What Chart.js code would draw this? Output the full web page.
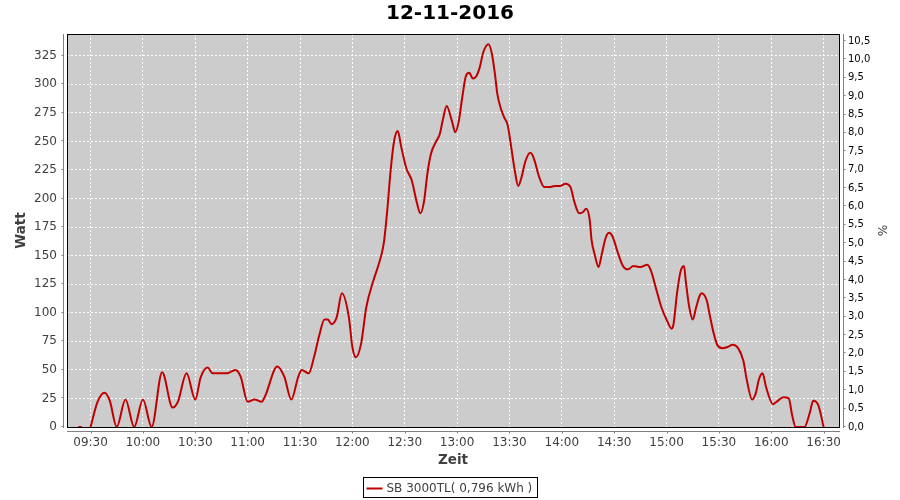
<!DOCTYPE html>
<html>
<head>
<meta charset="utf-8">
<title>12-11-2016</title>
<script src="https://cdn.jsdelivr.net/npm/chart.js@4.4.1/dist/chart.umd.min.js"></script>
<style>
  body { margin: 0; background: #fff; }
  #wrap { width: 900px; height: 500px; }
</style>
</head>
<body>
<div id="wrap"><canvas id="chartPower" width="900" height="500"></canvas></div>
<script>
// values: time of day -> power in watt
var times = [
  '09:23', '09:25', '09:27', '09:30', '09:34', '09:38', '09:41', '09:45', '09:50', '09:55',
  '10:00', '10:05', '10:11', '10:17', '10:20', '10:25', '10:30', '10:33', '10:37', '10:40',
  '10:44', '10:48', '10:53', '10:56', '11:00', '11:04', '11:08', '11:10', '11:17', '11:21',
  '11:25', '11:29', '11:31', '11:35', '11:38', '11:41', '11:44', '11:46', '11:48', '11:51',
  '11:54', '11:58', '12:00', '12:02', '12:05', '12:08', '12:12', '12:15', '12:18', '12:20',
  '12:22', '12:24', '12:26', '12:28', '12:31', '12:34', '12:37', '12:39', '12:41', '12:43',
  '12:45', '12:48', '12:50', '12:52', '12:54', '12:57', '12:59', '13:01', '13:03', '13:05',
  '13:07', '13:09', '13:11', '13:13', '13:15', '13:18', '13:20', '13:22', '13:23', '13:25',
  '13:27', '13:29', '13:31', '13:33', '13:35', '13:37', '13:39', '13:42', '13:44', '13:47',
  '13:50', '13:53', '13:56', '13:59', '14:02', '14:05', '14:07', '14:10', '14:12', '14:14',
  '14:16', '14:17', '14:19', '14:21', '14:23', '14:25', '14:27', '14:29', '14:32', '14:35',
  '14:38', '14:41', '14:45', '14:49', '14:51', '14:54', '14:57', '15:00', '15:03', '15:04',
  '15:06', '15:08', '15:10', '15:11', '15:13', '15:15', '15:17', '15:19', '15:20', '15:23',
  '15:25', '15:27', '15:29', '15:32', '15:35', '15:38', '15:41', '15:44', '15:46', '15:49',
  '15:51', '15:53', '15:55', '15:57', '16:01', '16:03', '16:07', '16:10', '16:12', '16:14',
  '16:19', '16:22', '16:24', '16:27', '16:30'
];
var watts = [
  0, 0, null, 0, 22, 30, 23, 0, 24, 0,
  24, 0, 48, 17, 22, 47, 24, 43, 52, 47,
  47, 47, 50, 44, 22, 24, 22, 27, 53, 44,
  24, 44, 50, 47, 61, 80, 94, 94, 90, 96,
  117, 96, 70, 61, 73, 105, 128, 142, 161, 190,
  226, 251, 259, 245, 226, 216, 196, 187, 197, 222,
  239, 250, 256, 270, 281, 268, 258, 268, 289, 307,
  310, 305, 307, 315, 328, 335, 326, 305, 292, 279,
  271, 264, 245, 225, 211, 219, 232, 240, 235, 219,
  210, 210, 211, 211, 213, 210, 198, 187, 188, 191,
  181, 164, 150, 140, 152, 165, 170, 167, 153, 141,
  138, 141, 140, 142, 137, 121, 105, 94, 86, 90,
  117, 136, 141, 128, 105, 94, 105, 115, 117, 111,
  96, 82, 72, 69, 70, 72, 69, 58, 41, 24,
  29, 42, 47, 35, 20, 22, 26, 25, 10, 0,
  0, 12, 23, 19, 0
];

var xTicks = ['09:30', '10:00', '10:30', '11:00', '11:30', '12:00', '12:30', '13:00',
  '13:30', '14:00', '14:30', '15:00', '15:30', '16:00', '16:30'];
var wattTicks = [0, 25, 50, 75, 100, 125, 150, 175, 200, 225, 250, 275, 300, 325];
var percentTicks = [0, 0.5, 1, 1.5, 2, 2.5, 3, 3.5, 4, 4.5, 5, 5.5, 6, 6.5, 7, 7.5, 8, 8.5, 9, 9.5, 10, 10.5];

var chartTitle = '12-11-2016';
var seriesLabel = 'SB 3000TL( 0,796 kWh )';

var FONT = 'DejaVu Sans';

function toMin(t) {
  var p = t.split(':');
  return parseInt(p[0], 10) * 60 + parseInt(p[1], 10);
}
function fmt(m) {
  var h = Math.floor(m / 60), mm = Math.round(m % 60);
  return (h < 10 ? '0' : '') + h + ':' + (mm < 10 ? '0' : '') + mm;
}

var points = times.map(function (t, i) {
  return { x: toMin(t), y: watts[i] };
});

// gray plot box, black outline, offset axis lines like the original
var plotFrame = {
  id: 'plotFrame',
  beforeDraw: function (chart) {
    var ctx = chart.ctx, a = chart.chartArea;
    ctx.save();
    ctx.fillStyle = '#cccccc';
    ctx.fillRect(a.left, a.top, a.right - a.left, a.bottom - a.top);
    ctx.restore();
  },
  afterDraw: function (chart) {
    var ctx = chart.ctx, a = chart.chartArea;
    var sx = chart.scales.x, sy = chart.scales.y, sy2 = chart.scales.y2;
    ctx.save();
    ctx.lineWidth = 1;
    ctx.strokeStyle = '#000';
    ctx.strokeRect(a.left + 0.5, a.top + 0.5, a.right - a.left, a.bottom - a.top);

    ctx.strokeStyle = '#808080';
    ctx.beginPath();
    // left axis
    var lx = a.left - 3.5;
    ctx.moveTo(lx, a.top); ctx.lineTo(lx, a.bottom + 1);
    sy.ticks.forEach(function (t) {
      var py = Math.round(sy.getPixelForValue(t.value)) - 0.5;
      ctx.moveTo(lx - 2, py); ctx.lineTo(lx, py);
    });
    // right axis
    var rx = a.right + 4.5;
    ctx.moveTo(rx, a.top); ctx.lineTo(rx, a.bottom + 1);
    sy2.ticks.forEach(function (t) {
      var py = Math.round(sy2.getPixelForValue(t.value)) - 0.5;
      ctx.moveTo(rx, py); ctx.lineTo(rx + 2, py);
    });
    // bottom axis
    var by = a.bottom + 4.5;
    ctx.moveTo(a.left, by); ctx.lineTo(a.right + 1, by);
    sx.ticks.forEach(function (t) {
      var px = Math.round(sx.getPixelForValue(t.value)) + 0.5;
      ctx.moveTo(px, by); ctx.lineTo(px, by + 2);
    });
    ctx.stroke();

    // legend box
    var ds = chart.data.datasets[0];
    ctx.font = '12px "' + FONT + '"';
    var tw = ctx.measureText(ds.label).width;
    var bw = Math.round(3 + 16 + 4 + tw + 5);
    var bx = Math.round(450 - bw / 2) + 0.5, bt = 477.5, bh = 20;
    ctx.strokeStyle = '#000';
    ctx.strokeRect(bx, bt, bw, bh);
    ctx.strokeStyle = ds.borderColor;
    ctx.lineWidth = 2;
    ctx.beginPath();
    ctx.moveTo(bx + 3, bt + 11); ctx.lineTo(bx + 19, bt + 11);
    ctx.stroke();
    ctx.fillStyle = '#404040';
    ctx.textBaseline = 'middle';
    ctx.textAlign = 'left';
    ctx.fillText(ds.label, bx + 23, bt + 11);
    ctx.restore();
  }
};

var config = {
  type: 'line',
  data: {
    datasets: [{
      label: seriesLabel,
      data: points,
      borderColor: '#c00000',
      borderWidth: 2,
      pointRadius: 0,
      fill: false,
      cubicInterpolationMode: 'monotone',
      yAxisID: 'y'
    }]
  },
  options: {
    responsive: false,
    animation: false,
    devicePixelRatio: 1,
    layout: { padding: 0 },
    plugins: {
      legend: { display: false },
      tooltip: { enabled: false },
      title: {
        display: true,
        text: chartTitle,
        color: '#000',
        font: { family: FONT, size: 20, weight: 'bold' },
        padding: { top: 2, bottom: 8 }
      }
    },
    scales: {
      x: {
        type: 'linear',
        min: 556.5,
        max: 998.8,
        afterBuildTicks: function (s) {
          s.ticks = xTicks.map(function (t) { return { value: toMin(t) }; });
        },
        afterFit: function (s) { s.height = 73; },
        ticks: {
          callback: function (v) { return fmt(v); },
          color: '#404040',
          font: { family: FONT, size: 12 },
          padding: 9,
          autoSkip: false,
          maxRotation: 0
        },
        grid: { color: '#ffffff', lineWidth: 1, drawTicks: false },
        border: { display: false, dash: [2, 2] },
        title: {
          display: true,
          text: 'Zeit',
          color: '#404040',
          font: { family: FONT, size: 13.5, weight: 'bold' },
          padding: { top: 0, bottom: 31 }
        }
      },
      y: {
        position: 'left',
        min: 0,
        max: 344,
        afterBuildTicks: function (s) {
          s.ticks = wattTicks.map(function (v) { return { value: v }; });
        },
        afterFit: function (s) { s.width = 67; },
        ticks: {
          color: '#404040',
          font: { family: FONT, size: 12 },
          padding: 10
        },
        grid: { color: '#ffffff', lineWidth: 1, drawTicks: false },
        border: { display: false, dash: [2, 2] },
        title: {
          display: true,
          text: 'Watt',
          color: '#404040',
          font: { family: FONT, size: 13.5, weight: 'bold' },
          padding: { top: 13, bottom: 0 }
        }
      },
      y2: {
        position: 'right',
        min: 0,
        max: 10.69,
        afterBuildTicks: function (s) {
          s.ticks = percentTicks.map(function (v) { return { value: v }; });
        },
        afterFit: function (s) { s.width = 61; },
        ticks: {
          callback: function (v) { return v.toFixed(1).replace('.', ','); },
          color: '#000',
          font: { family: FONT, size: 10 },
          padding: 9
        },
        grid: { drawOnChartArea: false, drawTicks: false },
        border: { display: false },
        title: {
          display: true,
          text: '%',
          color: '#404040',
          font: { family: FONT, size: 12 },
          padding: { top: 12, bottom: 0 }
        }
      }
    }
  },
  plugins: [plotFrame]
};

var chartPower = new Chart(document.getElementById('chartPower'), config);
</script>
</body>
</html>
